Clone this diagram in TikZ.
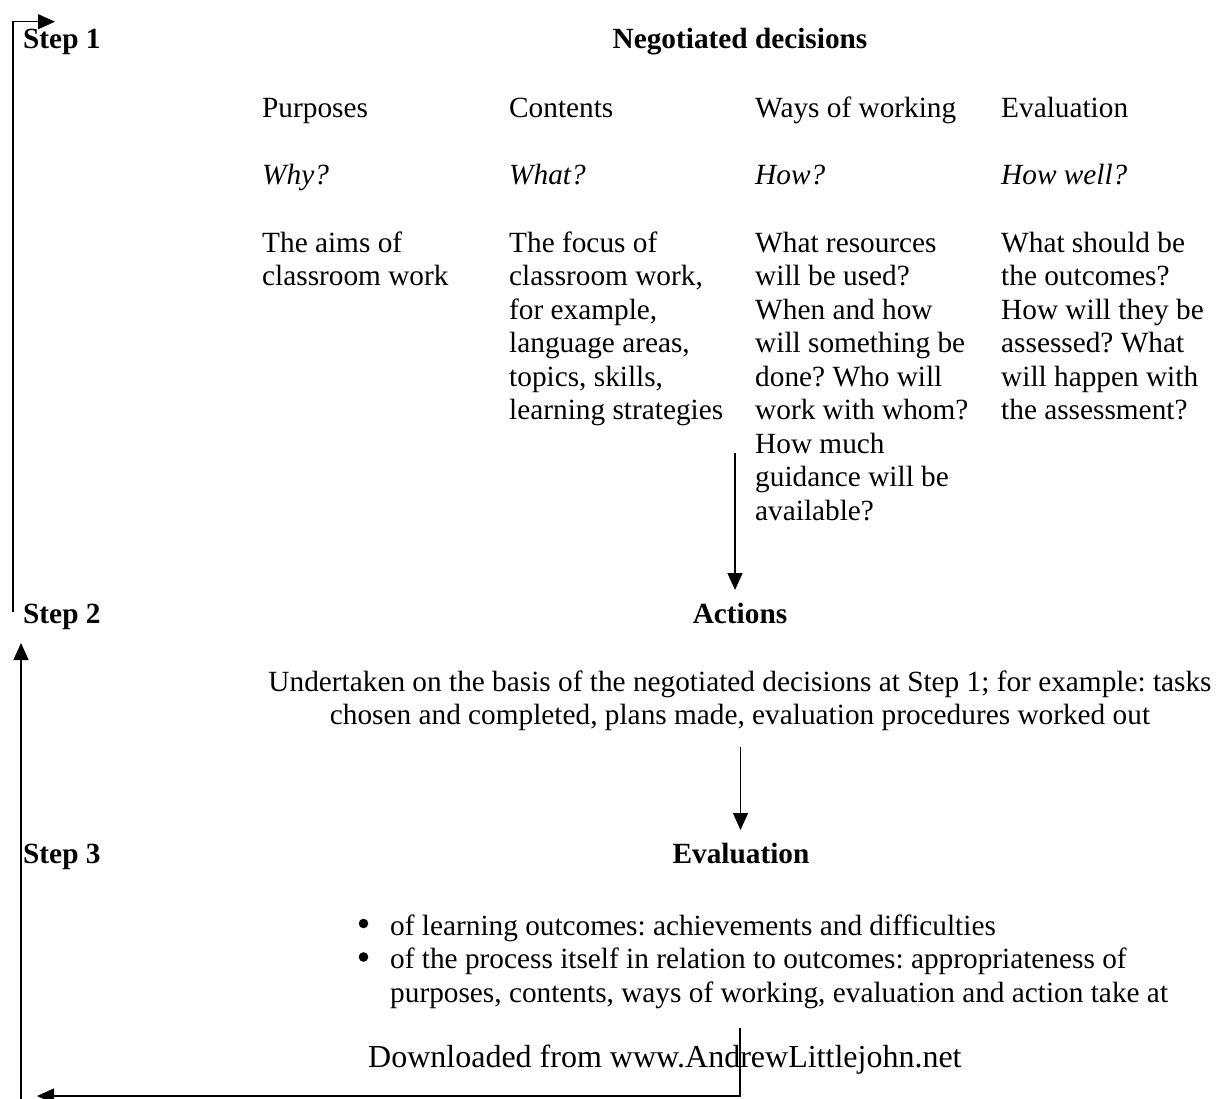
\documentclass[tikz,border=0pt]{standalone}
\usepackage{fontspec}
\setmainfont{Liberation Serif}
\usetikzlibrary{arrows.meta}
\newcommand\myfs{\fontsize{29.3}{33.5}\selectfont}
\newcommand\myfsb{\fontsize{32}{36}\selectfont}
\frenchspacing
\begin{document}
\begin{tikzpicture}[x=1pt,y=-1pt,
  txt/.style={inner sep=0pt, anchor=base west, font=\myfs},
  ttl/.style={inner sep=0pt, anchor=base, font=\myfs\bfseries},
  stepl/.style={inner sep=0pt, anchor=base west, font=\myfs\bfseries},
  bul/.style={fill=black},
  conn/.style={line width=1.3pt},
  arr/.style={conn, -{Triangle[width=15pt,length=17pt]}}]
\useasboundingbox (0,0) rectangle (1221,1098);
\clip (0,0) rectangle (1221,1098);
\fill[white] (0,0) rectangle (1221,1098);

% Step 1
\node[stepl] (s1) at (23,48) {Step 1};
\node[ttl] (nd) at (740,48) {Negotiated decisions};
\node[txt] (h1) at (262,117) {Purposes};
\node[txt] (h2) at (509,117) {Contents};
\node[txt] (h3) at (755,117) {Ways of working};
\node[txt] (h4) at (1001,117) {Evaluation};
\node[txt] (q1) at (262,184) {\itshape Why?};
\node[txt] (q2) at (509,184) {\itshape What?};
\node[txt] (q3) at (755,184) {\itshape How?};
\node[txt] (q4) at (1001,184) {\itshape How well?};
\node[txt] (d1) at (262,252) {\begin{tabular}[t]{@{}l@{}}The aims of\\classroom work\end{tabular}};
\node[txt] (d2) at (509,252) {\begin{tabular}[t]{@{}l@{}}The focus of\\classroom work,\\for example,\\language areas,\\topics, skills,\\learning strategies\end{tabular}};
\node[txt] (d3) at (755,252) {\begin{tabular}[t]{@{}l@{}}What resources\\will be used?\\When and how\\will something be\\done? Who will\\work with whom?\\How much\\guidance will be\\available?\end{tabular}};
\node[txt] (d4) at (1001,252) {\begin{tabular}[t]{@{}l@{}}What should be\\the outcomes?\\How will they be\\assessed? What\\will happen with\\the assessment?\end{tabular}};

% Step 2
\node[stepl] (s2) at (23,623) {Step 2};
\node[ttl] (act) at (740,623) {Actions};
\node[ttl, font=\myfs] (actd) at (740,691) {\begin{tabular}[t]{@{}c@{}}Undertaken on the basis of the negotiated decisions at Step 1; for example: tasks\\chosen and completed, plans made, evaluation procedures worked out\end{tabular}};

% Step 3
\node[stepl] (s3) at (23,863) {Step 3};
\node[ttl] (ev) at (741,863) {Evaluation};
\node[txt] (b1) at (390,935) {\begin{tabular}[t]{@{}l@{}}of learning outcomes: achievements and difficulties\\
of the process itself in relation to outcomes: appropriateness of\\
purposes, contents, ways of working, evaluation and action take at\end{tabular}};
\fill[bul] (363.5,923.5) circle (4.8);
\fill[bul] (363.5,957) circle (4.8);

\node[txt, font=\myfsb] (dl) at (368,1067) {Downloaded from www.AndrewLittlejohn.net};

% connectors
\coordinate (a1s) at (735,453);
\coordinate (a1e) at (735,590);
\draw[arr] (a1s) -- (a1e);
\coordinate (a2s) at (740.5,747);
\coordinate (a2e) at (740.5,830);
\draw[arr] (a2s) -- (a2e);

\coordinate (lb) at (13,612);
\coordinate (lt) at (13,21.7);
\coordinate (ltr) at (55,21.7);
\draw[arr] (lb) -- (lt) -- (ltr);

\coordinate (ub) at (21,1100);
\coordinate (ut) at (21,643);
\draw[arr] (ub) -- (ut);

\coordinate (rb) at (740,1028);
\coordinate (rc) at (740,1096);
\coordinate (le) at (37,1096);
\draw[arr] (rb) -- (rc) -- (le);
\end{tikzpicture}
\end{document}
